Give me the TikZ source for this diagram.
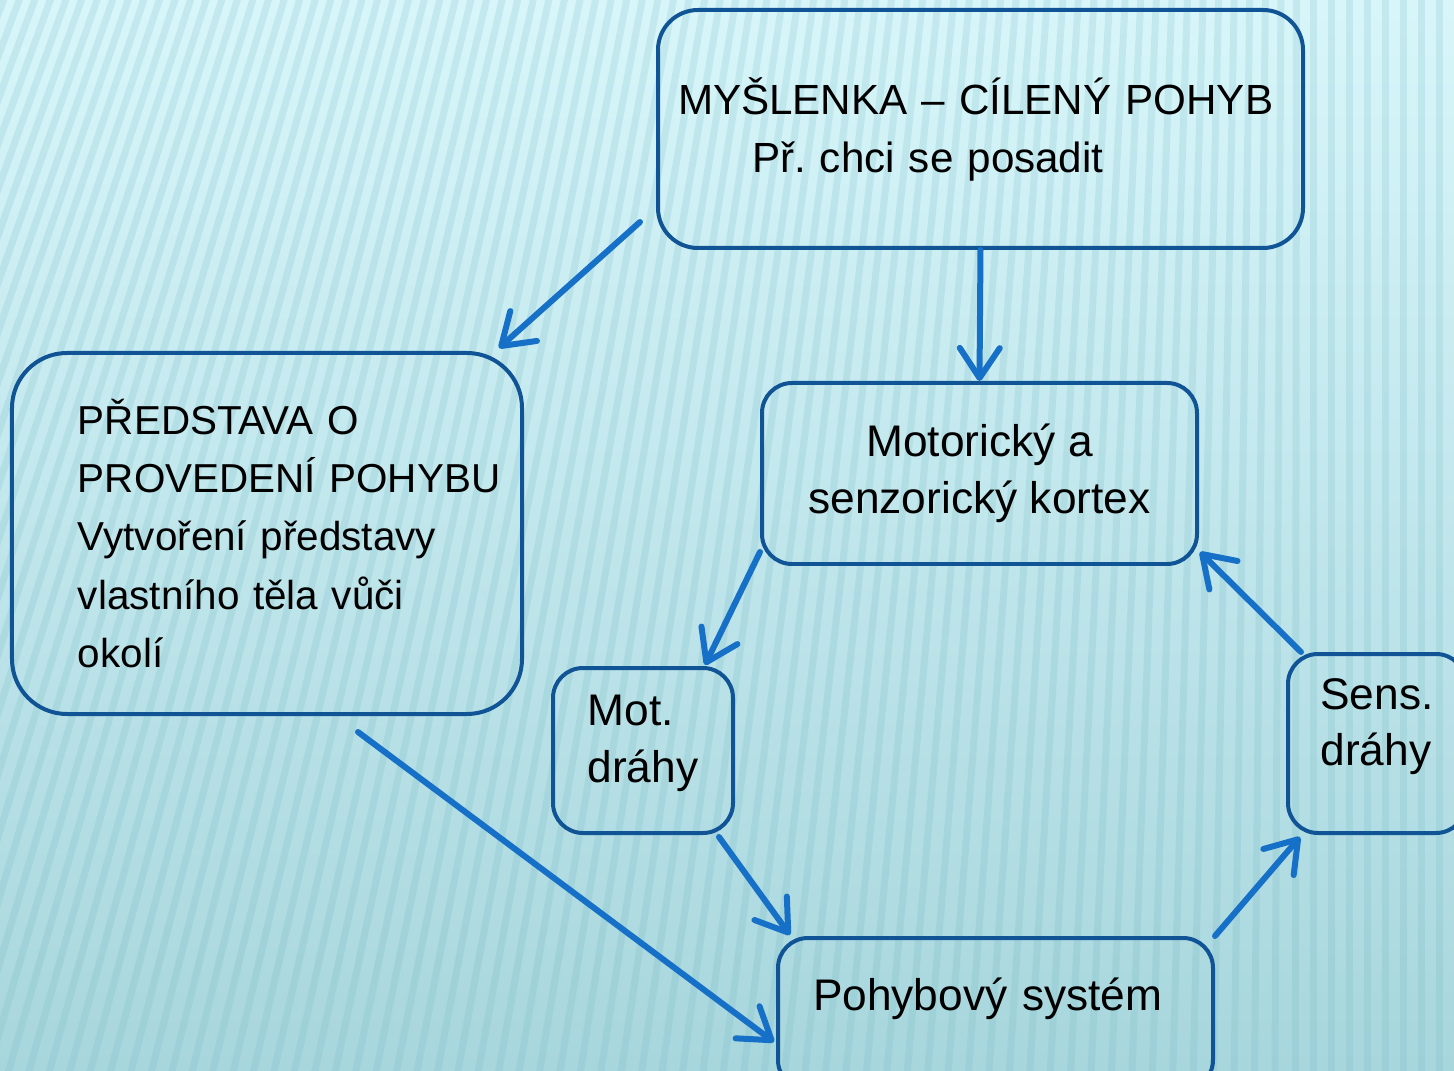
\documentclass[tikz,border=0pt]{standalone}
\usepackage{fontspec}
\setmainfont{Liberation Sans}
\usetikzlibrary{positioning,calc,arrows.meta}
\definecolor{boxblue}{RGB}{16,84,150}
\definecolor{arrowblue}{RGB}{22,112,200}
\definecolor{bgtop}{RGB}{216,246,250}
\definecolor{bgbottom}{RGB}{168,214,221}
\definecolor{stripe}{RGB}{105,178,190}
\tikzset{
	box/.style={draw=boxblue, line width=0.04cm, rounded corners=#1, inner ysep=0pt},
	box/.default=0.3cm,
	link/.style={draw=arrowblue, line width=0.06cm, line cap=round,
		-{Straight Barb[length=0.3cm,width=0.4cm,round]}},
	txt/.style={font=\fontsize{12.6}{16.1}\selectfont},
}

\begin{document}
\begin{tikzpicture}
	\useasboundingbox (0,0) rectangle (14.54,-10.71);
	% background with stripes
	\begin{scope}
		\clip (0,0) rectangle (14.54,-10.71);
		\shade[top color=bgtop, bottom color=bgbottom] (0,0) rectangle (14.54,-10.71);
		\foreach \i in {-25,...,85} {
			\pgfmathsetmacro{\xm}{\i*0.18}
			\pgfmathsetmacro{\slant}{max(0,0.33*(1-\xm/13))}
			\draw[stripe, line width=0.07cm, opacity=0.18] (\xm-\slant*5.4,-10.8) -- (\xm+\slant*5.4,0.1);
		}
	\end{scope}

	% boxes
	\node[box=0.4cm, font=\fontsize{12}{16.5}\selectfont, text width=6.05cm, inner xsep=0.2cm,
		minimum height=2.38cm, align=left] (mysl) at (9.805,-1.29)
		{MYŠLENKA – CÍLENÝ POHYB\\\hspace*{0.74cm}Př.\ chci se posadit};
	\node[box=0.55cm, font=\fontsize{11.5}{16.6}\selectfont, text width=3.78cm, inner xsep=0.66cm,
		minimum height=3.61cm, align=left] (predst) at (2.67,-5.335)
		{PŘEDSTAVA O\\\mbox{PROVEDENÍ POHYBU}\\\mbox{Vytvoření představy}\\vlastního těla vůči\\okolí};
	\node[box, txt, minimum width=4.35cm, minimum height=1.81cm, align=center] (kortex) at (9.795,-4.735)
		{Motorický a\\senzorický kortex};
	\node[box, txt, minimum width=1.80cm, minimum height=1.65cm, text depth=0.23cm, align=left] (motdr) at (6.43,-7.505)
		{Mot.\\dráhy};
	\node[box, txt, minimum width=1.78cm, minimum height=1.79cm, text depth=0.43cm, align=left] (sensdr) at (13.77,-7.435)
		{Sens.\\dráhy};
	\node[box, txt, text width=3.65cm, inner xsep=0.35cm, minimum height=1.52cm,
		text height=0.4cm, text depth=0.48cm, align=left] (pohyb) at (9.955,-10.14)
		{Pohybový systém};

	% arrows
	\draw[link] ($(mysl.south west)+(-0.16,0.28)$) -- ($(predst.north east)+(-0.25,0.03)$);
	\draw[link] (mysl.south) -- (kortex.north);
	\draw[link] ($(kortex.south west)+(0,0.14)$) -- ($(motdr.north east)+(-0.3,0.01)$);
	\draw[link] ($(motdr.south east)+(-0.16,-0.02)$) -- ($(pohyb.north west)+(0.14,0.01)$);
	\draw[link] ($(predst.south)+(0.91,-0.16)$) -- ($(pohyb.west)+(-0.02,-0.28)$);
	\draw[link] (pohyb.north east) -- ($(sensdr.south west)+(0.14,-0.02)$);
	\draw[link] ($(sensdr.north west)+(0.15,0)$) -- ($(kortex.south east)+(0.01,0.14)$);
\end{tikzpicture}
\end{document}
